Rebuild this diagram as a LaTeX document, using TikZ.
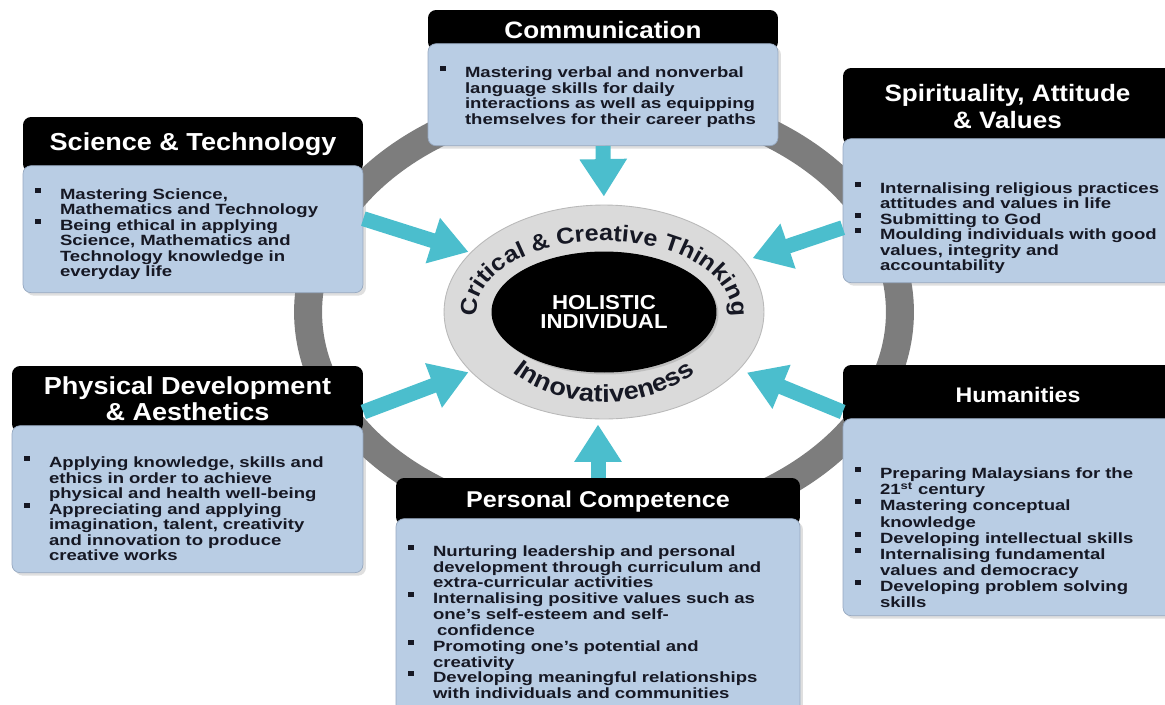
\documentclass[tikz,border=0pt]{standalone}
\usepackage{fontspec}
\setmainfont{Liberation Sans}
\newfontfamily\widesans{Liberation Sans}[FakeStretch=1.25]
\newfontfamily\headsans{Liberation Sans}[FakeStretch=1.1]
\usetikzlibrary{shapes.geometric,arrows.meta,positioning,shadows,decorations.text}

\definecolor{boxblue}{RGB}{185,205,228}
\definecolor{boxedge}{RGB}{150,168,192}
\definecolor{ringgray}{RGB}{125,125,125}
\definecolor{coregray}{RGB}{218,218,218}
\definecolor{arrowcyan}{RGB}{75,190,205}
\definecolor{ink}{RGB}{22,24,36}

% square bullet with hanging indent, lines kept at a fixed baseline distance
\newcommand{\itm}{\lineskiplimit=-6pt\par\noindent\hangindent=0.5cm\hangafter=1%
  \makebox[0.5cm][l]{\raisebox{0.13cm}{\rule{0.12cm}{0.1cm}}}}

% text set along the rim of the centre
\newcommand{\rimfont}[1]{\headsans\bfseries\fontsize{#1}{15}\selectfont}

\begin{document}
\begin{tikzpicture}[
    x=0.02cm, y=-0.02cm,
    headbox/.style={
        rectangle,
        rounded corners=0.16cm,
        fill=black,
        text=white,
        align=center,
        inner sep=0pt,
        font=\headsans\bfseries\fontsize{13.5}{15.5}\selectfont
    },
    bodybox/.style={
        rectangle,
        rounded corners=0.16cm,
        fill=boxblue,
        draw=boxedge,
        line width=0.4pt,
        text=ink,
        align=left,
        inner xsep=0.24cm,
        inner ysep=0pt,
        font=\widesans\bfseries\fontsize{8.45}{8.8}\selectfont,
        drop shadow={opacity=0.25, shadow xshift=0.06cm, shadow yshift=-0.06cm}
    },
    feed/.style={
        draw=arrowcyan,
        line width=0.3cm,
        -{Triangle[width=0.9cm,length=0.75cm]}
    },
    round/.style={
        ellipse,
        inner sep=0pt
    },
]
\useasboundingbox (0,0) rectangle (1165,704);

% ring and centre
\node[round, draw=ringgray, line width=0.56cm,
    minimum width=11.84cm, minimum height=8.64cm] (ring) at (604,312) {};
\node[round, fill=coregray, draw=gray!55, line width=0.5pt,
    minimum width=6.4cm, minimum height=4.28cm] (core) at (604,312) {};
\node[round, fill=black, text=white, align=center,
    minimum width=4.5cm, minimum height=2.42cm,
    drop shadow={opacity=0.3, shadow xshift=0.04cm, shadow yshift=-0.04cm},
    font=\headsans\bfseries\fontsize{11.5}{10.5}\selectfont] (hub) at (604,312)
    {HOLISTIC\\INDIVIDUAL};

% rim texts
\path[decorate, decoration={text along path, text align=center,
    text={|\rimfont{13}\color{ink}|Critical {\&} Creative Thinking}}]
    ([shift={(195:2.55cm and 1.42cm)}]core.center)
    arc[start angle=195, end angle=-15, x radius=2.55cm, y radius=1.42cm];
\path[decorate, decoration={text along path, text align=center,
    text={|\rimfont{14}\color{ink}|Innovativeness}}]
    ([shift={(200:2.45cm and 1.8cm)}]core.center)
    arc[start angle=200, end angle=340, x radius=2.45cm, y radius=1.8cm];

% headers
\node[headbox, minimum width=7cm, minimum height=0.8cm] (commhead) at (603,30)
    {Communication};
\node[headbox, minimum width=6.8cm, minimum height=1.1cm,
    font=\headsans\bfseries\fontsize{14}{16}\selectfont] (scihead) at (193,144.5)
    {Science \& Technology};
\node[headbox, minimum width=6.58cm, minimum height=1.54cm] (spirithead) at (1007.5,106.5)
    {Spirituality, Attitude\\\& Values};
\node[headbox, minimum width=7.02cm, minimum height=1.32cm,
    font=\headsans\bfseries\fontsize{14}{15}\selectfont] (physhead) at (187.5,399)
    {Physical Development\\\& Aesthetics};
\node[headbox, minimum width=8.08cm, minimum height=0.94cm,
    font=\headsans\bfseries\fontsize{13}{15}\selectfont] (perhead) at (598,501.5)
    {Personal Competence};
\node[headbox, minimum width=7cm, minimum height=1.2cm,
    font=\headsans\bfseries\fontsize{12}{14}\selectfont] (humhead) at (1018,395)
    {Humanities};

% bodies
\node[bodybox, below=-0.14cm of commhead, text width=6.52cm, minimum height=2.04cm] (comm) {%
    \itm Mastering verbal and nonverbal\newline language skills for daily\newline
    interactions as well as equipping\newline themselves for their career paths\par};

\node[bodybox, below=-0.14cm of scihead, text width=6.32cm, minimum height=2.54cm] (sci) {%
    \vspace*{0.1cm}
    \itm Mastering Science,\newline Mathematics and Technology
    \itm Being ethical in applying\newline Science, Mathematics and\newline
    Technology knowledge in\newline everyday life\par};

\node[bodybox, below=-0.14cm of spirithead.south west, anchor=north west,
    text width=6.46cm, minimum height=2.88cm] (spirit) {%
    \vspace*{0.6cm}
    \itm Internalising religious practices\newline attitudes and values in life
    \itm Submitting to God
    \itm Moulding individuals with good\newline values, integrity and\newline accountability\par};

\node[bodybox, below=-0.14cm of physhead, text width=6.54cm, minimum height=2.94cm] (phys) {%
    \vspace*{0.3cm}
    \itm Applying knowledge, skills and\newline ethics in order to achieve\newline
    physical and health well-being
    \itm Appreciating and applying\newline imagination, talent, creativity\newline
    and innovation to produce\newline creative works\par};

\node[bodybox, below=-0.14cm of perhead, text width=7.6cm, minimum height=3.88cm,
    font=\widesans\bfseries\fontsize{8.45}{9}\selectfont] (pers) {%
    \vspace*{0.16cm}
    \itm Nurturing leadership and personal\newline development through curriculum and\newline
    extra-curricular activities
    \itm Internalising positive values such as\newline one’s self-esteem and self-\newline
    \hspace*{0.08cm}confidence
    \itm Promoting one’s potential and\newline creativity
    \itm Developing meaningful relationships\newline with individuals and communities\par};

\node[bodybox, below=-0.14cm of humhead.south west, anchor=north west,
    text width=6.46cm, minimum height=3.94cm,
    font=\widesans\bfseries\fontsize{8.45}{9.2}\selectfont] (hum) {%
    \vspace*{0.72cm}
    \itm Preparing Malaysians for the\newline 21\textsuperscript{st} century
    \itm Mastering conceptual\newline knowledge
    \itm Developing intellectual skills
    \itm Internalising fundamental\newline values and democracy
    \itm Developing problem solving\newline skills\par};

% arrows into the centre
\draw[feed, shorten >=0.16cm] (comm.south) -- (core.north);
\draw[feed, shorten >=0.04cm] ([yshift=0.21cm]sci.east) -- (core.156);
\draw[feed, shorten >=0.16cm] ([yshift=-0.34cm]spirit.west) -- (core.20);
\draw[feed, shorten >=0.04cm] ([yshift=-0.26cm]physhead.east) -- (core.204);
\draw[feed, shorten >=0.16cm] ([yshift=-0.34cm]humhead.west) -- (core.337);
\draw[feed, shorten >=0.1cm] (perhead.north) -- (perhead.north |- core.south);

\end{tikzpicture}
\end{document}
